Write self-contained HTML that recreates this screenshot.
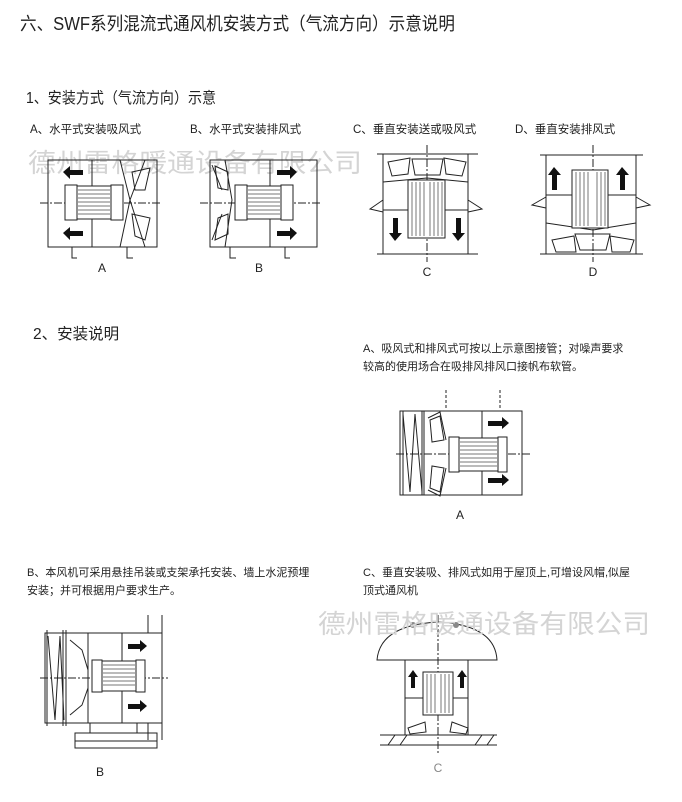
<!DOCTYPE html>
<html><head><meta charset="utf-8"><style>
html,body{margin:0;padding:0;background:#fff;}
svg{display:block;font-family:"Liberation Sans","Noto Sans CJK SC",sans-serif;}
</style></head><body>
<svg width="682" height="802" viewBox="0 0 682 802" xmlns="http://www.w3.org/2000/svg">
<text x="20" y="30" font-size="18" fill="#222" textLength="435" lengthAdjust="spacingAndGlyphs">六、SWF系列混流式通风机安装方式（气流方向）示意说明</text>
<text x="26" y="103" font-size="15.5" fill="#222" textLength="190" lengthAdjust="spacingAndGlyphs">1、安装方式（气流方向）示意</text>
<text x="30" y="133" font-size="11.5" fill="#222">A、水平式安装吸风式</text>
<text x="190" y="133" font-size="11.5" fill="#222">B、水平式安装排风式</text>
<text x="353" y="133" font-size="11.5" fill="#222">C、垂直安装送或吸风式</text>
<text x="515" y="133" font-size="11.5" fill="#222">D、垂直安装排风式</text>
<text x="28" y="172" font-size="26" fill="#d4d4d4" textLength="334" lengthAdjust="spacingAndGlyphs">德州雷格暖通设备有限公司</text>

<g stroke="#222" stroke-width="1" fill="none">
<rect x="48" y="160" width="109" height="87"/>
<line x1="92" y1="160" x2="92" y2="247"/>
<line x1="40" y1="203" x2="160" y2="203" stroke-dasharray="8,2,2,2"/>
<rect x="65" y="185" width="12" height="35" fill="#fff"/>
<rect x="77" y="186" width="34" height="33" fill="#fff"/>
<path d="M78 190H110M78 194H110M78 198H110M78 202H110M78 206H110M78 210H110M78 214H110" stroke="#777"/>
<rect x="111" y="185" width="12" height="35" fill="#fff"/>
<path d="M120 160 L130 200 L120 247 M145 160 L130 200 M145 247 L130 200"/>
<path d="M132 172 L150 168 L145 190 L135 190 Z M132 214 L150 218 L145 240 L135 236 Z"/>
<path d="M72 247V258H77M127 247V258H133"/>
<rect x="210" y="160" width="107" height="87"/>
<line x1="270" y1="160" x2="270" y2="247"/>
<line x1="200" y1="203" x2="320" y2="203" stroke-dasharray="8,2,2,2"/>
<rect x="235" y="185" width="12" height="35" fill="#fff"/>
<rect x="247" y="186" width="34" height="33" fill="#fff"/>
<path d="M248 190H280M248 194H280M248 198H280M248 202H280M248 206H280M248 210H280M248 214H280" stroke="#777"/>
<rect x="281" y="185" width="12" height="35" fill="#fff"/>
<path d="M225 160 L232 200 L225 247 M212 165 L222 190 M212 240 L222 214"/>
<path d="M215 166 L228 172 L228 190 L218 188 Z M215 240 L228 234 L228 214 L218 218 Z"/>
<path d="M230 247V258H236M285 247V258H290"/>
<path d="M377 154H478M377 254H478M383 154V254M468 154V254"/>
<line x1="427" y1="145" x2="427" y2="262" stroke-dasharray="8,2,2,2"/>
<path d="M383 182 L427 178 L468 182 M383 210 H408 M445 210 H468"/>
<path d="M388 162 L410 158 L408 174 L392 176 Z M444 158 L466 162 L462 176 L446 174 Z M412 159 H443 L440 175 H415 Z"/>
<path d="M383 200 L370 209 L383 212 M468 200 L482 209 L468 212"/>
<rect x="408" y="180" width="37" height="58" fill="#fff"/>
<path d="M412 182V236M416 182V236M420 182V236M424 182V236M430 182V236M434 182V236M438 182V236M442 182V236" stroke="#777"/>
<path d="M540 155H643M540 254H643M546 155V254M636 155V254"/>
<line x1="593" y1="145" x2="593" y2="262" stroke-dasharray="8,2,2,2"/>
<path d="M546 223 L593 230 L636 223 M546 195H572M608 195H636"/>
<path d="M546 197 L532 205 L546 208 M636 197 L650 205 L636 208"/>
<path d="M552 240 L574 236 L576 252 L556 252 Z M610 236 L634 240 L630 252 L612 252 Z M575 234 H610 L606 250 H580 Z"/>
<rect x="572" y="170" width="36" height="58" fill="#fff"/>
<path d="M576 172V226M580 172V226M584 172V226M588 172V226M597 172V226M601 172V226M605 172V226" stroke="#777"/>

<rect x="400" y="411" width="122" height="84"/>
<path d="M403 411V495M422 411V495M424 411V495M482 411V495"/>
<path d="M403 414 L410 492 L415 414 L422 492"/>
<line x1="396" y1="454" x2="530" y2="454" stroke-dasharray="8,2,2,2"/>
<path d="M428 418 L440 412 L446 440 M428 490 L440 496 L446 468"/>
<path d="M430 420 L440 416 L444 440 L432 442 Z M430 488 L440 492 L444 468 L432 466 Z"/>
<rect x="449" y="437" width="10" height="35" fill="#fff"/>
<rect x="459" y="438" width="39" height="33" fill="#fff"/>
<path d="M460 442H497M460 446H497M460 450H497M460 454H497M460 458H497M460 462H497M460 466H497" stroke="#777"/>
<rect x="498" y="437" width="9" height="35" fill="#fff"/>
<path d="M446 390V410M500 390V410" stroke-dasharray="3,2"/>

<rect x="45" y="633" width="117" height="90"/>
<path d="M47 630V726M63 630V726M66 630V726M88 633V723M122 633V723M148 615V633M162 615V633M148 723V740M162 723V740"/>
<path d="M48 636 L55 720 L60 636 L64 720"/>
<line x1="40" y1="678" x2="168" y2="678" stroke-dasharray="8,2,2,2"/>
<path d="M70 640 L82 650 L88 670 M70 715 L82 705 L88 688"/>
<rect x="92" y="660" width="10" height="32" fill="#fff"/>
<rect x="102" y="661" width="34" height="30" fill="#fff"/>
<path d="M103 665H135M103 669H135M103 673H135M103 677H135M103 681H135M103 685H135" stroke="#777"/>
<rect x="136" y="660" width="9" height="32" fill="#fff"/>
<path d="M90 723V733M137 723V733"/>
<rect x="75" y="733" width="82" height="8"/>
<rect x="75" y="741" width="82" height="7"/>

<path d="M377 660 Q380 625 438 622 Q495 625 497 660 Z"/>
<path d="M405 660V735M468 660V735M405 698H468"/>
<line x1="438" y1="615" x2="438" y2="755" stroke-dasharray="8,2,2,2"/>
<path d="M408 728 L425 722 L426 732 L410 734 Z M452 722 L468 728 L466 734 L450 732 Z"/>
<rect x="423" y="672" width="30" height="43" fill="#fff"/>
<path d="M427 674V713M431 674V713M435 674V713M441 674V713M445 674V713M449 674V713" stroke="#777"/>
<path d="M380 735H497M380 745H405M468 745H497M405 745H468"/>
<path d="M388 745 L395 735 M400 745 L407 735 M475 745 L482 735 M487 745 L494 735"/>
</g>
<circle cx="413" cy="625" r="3" fill="#888"/><circle cx="456" cy="625" r="3" fill="#888"/>
<g fill="#111">
<path d="M63 172 L70 166 V170 H83 V175 H70 V179 Z"/>
<path d="M63 233 L70 227 V231 H83 V236 H70 V240 Z"/>
<path d="M297 172 L290 166 V170 H277 V175 H290 V179 Z"/>
<path d="M297 233 L290 227 V231 H277 V236 H290 V240 Z"/>
<path d="M395 241 L389 233 H393 V218 H398 V233 H402 Z"/>
<path d="M458 241 L452 233 H456 V218 H461 V233 H465 Z"/>
<path d="M554 167 L548 175 H552 V190 H557 V175 H561 Z"/>
<path d="M622 167 L616 175 H620 V190 H625 V175 H629 Z"/>
<path d="M509 423 L502 417 V421 H488 V426 H502 V429 Z"/>
<path d="M509 480 L502 474 V478 H488 V483 H502 V486 Z"/>
<path d="M147 646 L140 640 V644 H128 V649 H140 V652 Z"/>
<path d="M147 706 L140 700 V704 H128 V709 H140 V712 Z"/>
<path d="M413 670 L408 677 H411 V688 H415 V677 H418 Z"/>
<path d="M462 670 L457 677 H460 V688 H464 V677 H467 Z"/>
</g>
<g font-size="12" fill="#222" text-anchor="middle">
<text x="102" y="272">A</text><text x="259" y="272">B</text>
<text x="427" y="276">C</text><text x="593" y="276">D</text>
<text x="460" y="519">A</text><text x="100" y="776">B</text><text x="438" y="772" fill="#888">C</text>
</g>
<text x="33" y="339" font-size="15.5" fill="#222">2、安装说明</text>
<text x="363" y="352" font-size="11" fill="#222">A、吸风式和排风式可按以上示意图接管；对噪声要求</text>
<text x="363" y="370" font-size="11" fill="#222">较高的使用场合在吸排风排风口接帆布软管。</text>
<text x="27" y="576" font-size="11" fill="#222">B、本风机可采用悬挂吊装或支架承托安装、墙上水泥预埋</text>
<text x="27" y="594" font-size="11" fill="#222">安装；并可根据用户要求生产。</text>
<text x="363" y="576" font-size="11" fill="#222">C、垂直安装吸、排风式如用于屋顶上,可增设风帽,似屋</text>
<text x="363" y="594" font-size="11" fill="#222">顶式通风机</text>
<text x="318" y="633" font-size="26" fill="#d4d4d4" textLength="332" lengthAdjust="spacingAndGlyphs">德州雷格暖通设备有限公司</text>
</svg>
</body></html>
